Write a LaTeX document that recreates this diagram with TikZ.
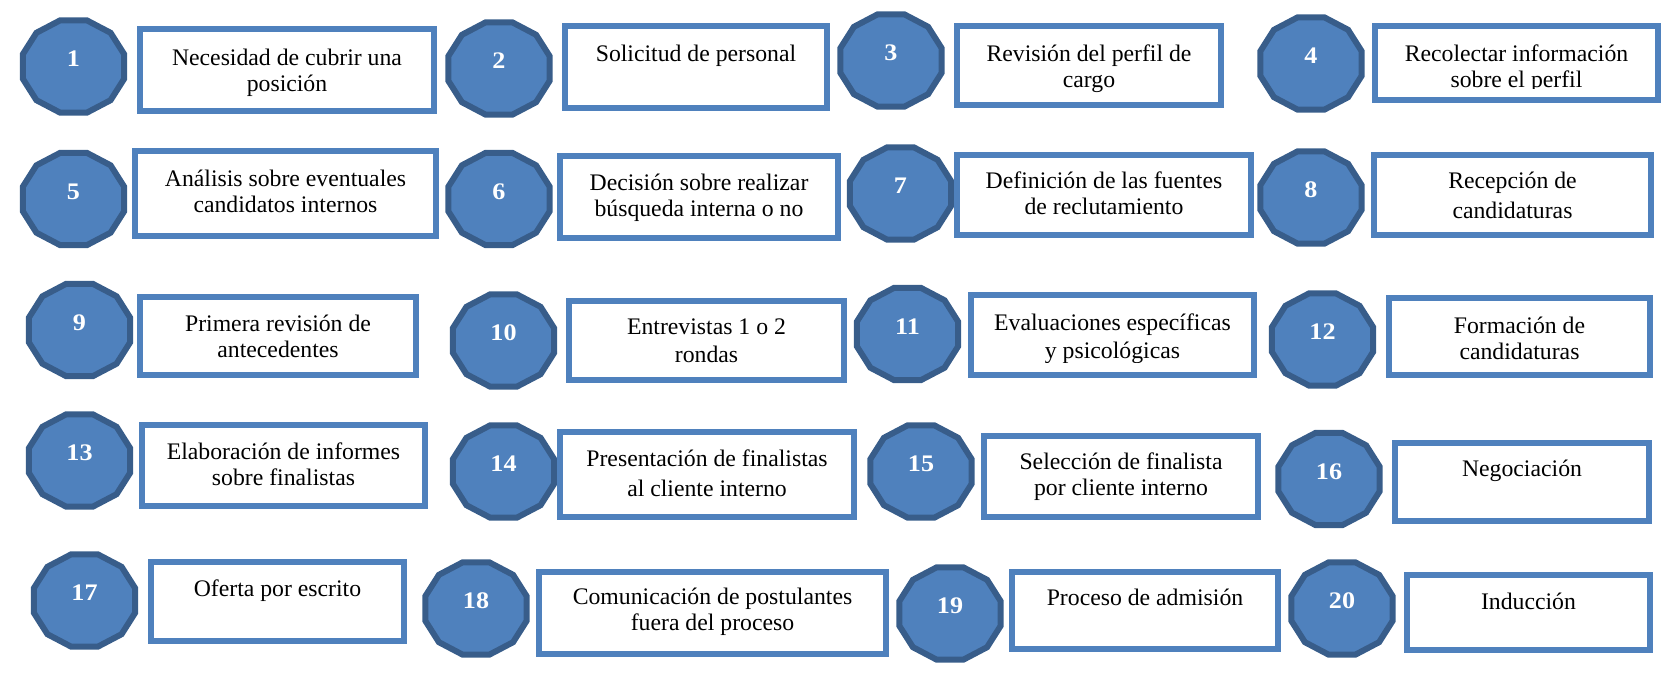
\documentclass[tikz,border=0pt]{standalone}
\usepackage{fontspec}
\setmainfont{Liberation Serif}
\usetikzlibrary{shapes.geometric}
\definecolor{numfill}{RGB}{79,129,189}
\definecolor{numline}{RGB}{56,93,138}
\definecolor{boxline}{RGB}{79,129,189}
\newcommand{\tstrut}{\rule{0pt}{18pt}}
\tikzset{
  numshape/.style={regular polygon, regular polygon sides=12, minimum size=71.5pt, inner sep=0pt, xscale=1.1,
    line width=4.5pt, draw=numline, fill=numfill, text=white,
    font=\fontsize{17.8}{19.9}\selectfont\bfseries, text height=12pt, text depth=12pt},
  stepbox/.style={rectangle, draw=boxline, line width=4.5pt, fill=white, inner sep=0pt},
  steptext/.style={anchor=north, inner sep=0.75pt, align=center, font=\fontsize{17.8}{19.9}\selectfont}
}

\begin{document}
\begin{tikzpicture}[x=0.75pt,y=0.75pt,yscale=-1,xscale=1]
\useasboundingbox (0,0) rectangle (1675,682);

%Row 1
%Dodecagon 1
\node[numshape] (n1) at (73.5,66.5) {1};
%Rectangle 1
\node[stepbox, minimum width=220.5pt, minimum height=61.5pt] (b1) at (287,70) {};
\node[steptext] (t1) at (287,40) {\tstrut Necesidad de cubrir una\\posición};
%Dodecagon 2
\node[numshape] (n2) at (499,68.5) {2};
%Rectangle 2
\node[stepbox, minimum width=196.5pt, minimum height=61.5pt] (b2) at (696,67) {};
\node[steptext] (t2) at (696,36) {\tstrut Solicitud de personal};
%Dodecagon 3
\node[numshape] (n3) at (891,60.5) {3};
%Rectangle 3
\node[stepbox, minimum width=198pt, minimum height=59.25pt] (b3) at (1089,65.5) {};
\node[steptext] (t3) at (1089,36) {\tstrut Revisión del perfil de\\cargo};
%Dodecagon 4
\node[numshape] (n4) at (1311,63.5) {4};
%Rectangle 4
\node[stepbox, minimum width=212.25pt, minimum height=55.5pt] (b4) at (1516.5,63) {};
%text cut off at the bottom
\begin{scope}
\clip (1372,23) rectangle (1661,88);
\node[steptext] (t4) at (1516.5,36) {\tstrut Recolectar información\\sobre el perfil};
\end{scope}

%Row 2
%Dodecagon 5
\node[numshape] (n5) at (73.5,199) {5};
%Rectangle 5
\node[stepbox, minimum width=225.75pt, minimum height=63.75pt] (b5) at (285.5,193.5) {};
\node[steptext] (t5) at (285.5,161) {\tstrut Análisis sobre eventuales\\candidatos internos};
%Dodecagon 6
\node[numshape] (n6) at (499,199) {6};
%Rectangle 6
\node[stepbox, minimum width=208.5pt, minimum height=61.5pt] (b6) at (699,197) {};
\node[steptext] (t6) at (699,165) {\tstrut Decisión sobre realizar\\búsqueda interna o no};
%Dodecagon 7
\node[numshape] (n7) at (900.5,193.5) {7};
%Rectangle 7
\node[stepbox, minimum width=220.5pt, minimum height=60pt] (b7) at (1104,195) {};
\node[steptext] (t7) at (1104,163) {\tstrut Definición de las fuentes\\de reclutamiento};
%Dodecagon 8
\node[numshape] (n8) at (1311,197.5) {8};
%Rectangle 8
\node[stepbox, minimum width=207.75pt, minimum height=60pt] (b8) at (1512.5,195) {};
\node[steptext] (t8) at (1512.5,163) {\tstrut Recepción de\\[2.5pt]candidaturas};

%Row 3
%Dodecagon 9
\node[numshape] (n9) at (79.5,330) {9};
%Rectangle 9
\node[stepbox, minimum width=207pt, minimum height=58.5pt] (b9) at (278,336) {};
\node[steptext] (t9) at (278,306) {\tstrut Primera revisión de\\antecedentes};
%Dodecagon 10
\node[numshape] (n10) at (503.5,340.5) {10};
%Rectangle 10
\node[stepbox, minimum width=206.25pt, minimum height=59.25pt] (b10) at (706.5,340.5) {};
\node[steptext] (t10) at (706.5,309) {\tstrut Entrevistas 1 o 2\\[1pt]rondas};
%Dodecagon 11
\node[numshape] (n11) at (907.5,334) {11};
%Rectangle 11
\node[stepbox, minimum width=212.25pt, minimum height=60pt] (b11) at (1112.5,335) {};
%text cut off at the bottom
\begin{scope}
\clip (968,292) rectangle (1257,362);
\node[steptext] (t11) at (1112.5,305) {\tstrut Evaluaciones específicas\\[1.5pt]y psicológicas};
\end{scope}
%Dodecagon 12
\node[numshape] (n12) at (1322.5,339.5) {12};
%Rectangle 12
\node[stepbox, minimum width=195.75pt, minimum height=57.75pt] (b12) at (1519.5,336.5) {};
\node[steptext] (t12) at (1519.5,308) {\tstrut Formación de\\candidaturas};

%Row 4
%Dodecagon 13
\node[numshape] (n13) at (79.5,460.5) {13};
%Rectangle 13
\node[stepbox, minimum width=212.25pt, minimum height=60.75pt] (b13) at (283.5,465.5) {};
\node[steptext] (t13) at (283.5,434) {\tstrut Elaboración de informes\\sobre finalistas};
%Dodecagon 14
\node[numshape] (n14) at (503.5,471.5) {14};
%Rectangle 14
\node[stepbox, minimum width=220.5pt, minimum height=63.75pt] (b14) at (707,474.5) {};
\node[steptext] (t14) at (707,441) {\tstrut Presentación de finalistas\\[2.5pt]al cliente interno};
%Dodecagon 15
\node[numshape] (n15) at (921,471.5) {15};
%Rectangle 15
\node[stepbox, minimum width=205.5pt, minimum height=60.75pt] (b15) at (1121,476.5) {};
\node[steptext] (t15) at (1121,444) {\tstrut Selección de finalista\\por cliente interno};
%Dodecagon 16
\node[numshape] (n16) at (1329,479) {16};
%Rectangle 16
\node[stepbox, minimum width=190.5pt, minimum height=58.5pt] (b16) at (1522,482) {};
\node[steptext] (t16) at (1522,451) {\tstrut Negociación};

%Row 5
%Dodecagon 17
\node[numshape] (n17) at (84.5,600.5) {17};
%Rectangle 17
\node[stepbox, minimum width=189.75pt, minimum height=59.25pt] (b17) at (277.5,601.5) {};
\node[steptext] (t17) at (277.5,571) {\tstrut Oferta por escrito};
%Dodecagon 18
\node[numshape] (n18) at (476,608.5) {18};
%Rectangle 18
\node[stepbox, minimum width=260.25pt, minimum height=61.5pt] (b18) at (712.5,613) {};
\node[steptext] (t18) at (712.5,579) {\tstrut Comunicación de postulantes\\fuera del proceso};
%Dodecagon 19
\node[numshape] (n19) at (950,613.5) {19};
%Rectangle 19
\node[stepbox, minimum width=199.5pt, minimum height=57.75pt] (b19) at (1145,610.5) {};
\node[steptext] (t19) at (1145,580) {\tstrut Proceso de admisión};
%Dodecagon 20
\node[numshape] (n20) at (1342,608.5) {20};
%Rectangle 20
\node[stepbox, minimum width=182.25pt, minimum height=56.25pt] (b20) at (1528.5,612.5) {};
\node[steptext] (t20) at (1528.5,584) {\tstrut Inducción};
\end{tikzpicture}
\end{document}
